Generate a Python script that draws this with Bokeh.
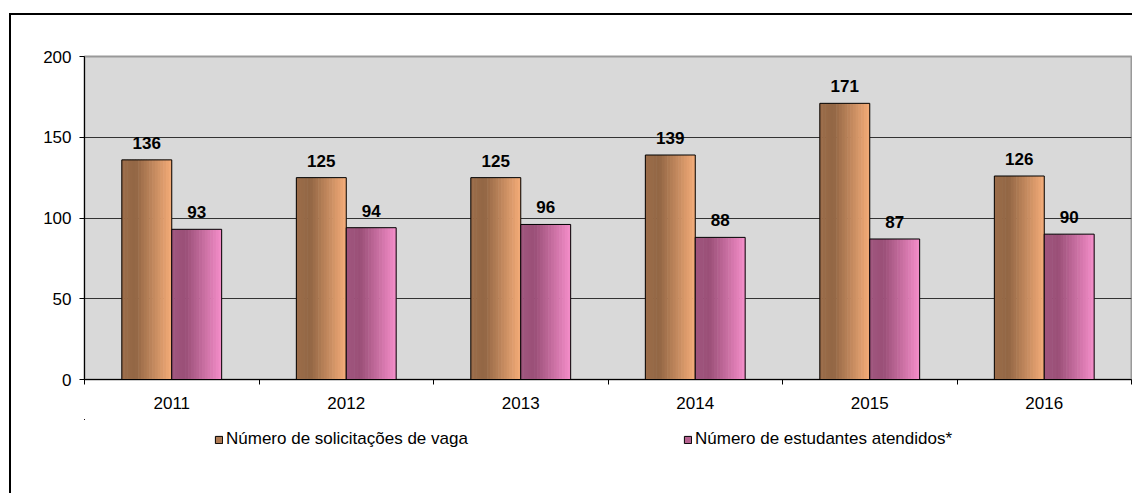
from bokeh.plotting import figure
from bokeh.models import (ColumnDataSource, Range1d, LinearAxis, FixedTicker,
                          Legend, LegendItem)
from bokeh.layouts import column
from bokeh.transform import dodge
from bokeh.core.properties import value
from bokeh.embed import file_html
from bokeh.resources import INLINE

# ---- data ----
years = ["2011", "2012", "2013", "2014", "2015", "2016"]
solicitacoes = [136, 125, 125, 139, 171, 126]
atendidos = [93, 94, 96, 88, 87, 90]
series_names = ["Número de solicitações de vaga", "Número de estudantes atendidos*"]
y_ticks = [0, 50, 100, 150, 200]

FONT = "Liberation Sans"

# category slot centres (index based)
xc = [i + 0.5 for i in range(len(years))]

src = ColumnDataSource(dict(
    year=years, xc=xc, sol=solicitacoes, ate=atendidos,
    sol_lbl=[str(v) for v in solicitacoes],
    ate_lbl=[str(v) for v in atendidos],
))

p = figure(x_range=Range1d(0, len(years)), y_range=(0, 200), width=1121, height=404,
           output_backend="svg", toolbar_location=None, x_axis_location=None,
           min_border_left=73, min_border_top=41, min_border_right=1,
           min_border_bottom=40, background_fill_color="#D9D9D9",
           border_fill_color="white", outline_line_color="#999999",
           outline_line_width=2)

# gradient helpers (style only)
ORANGE = [(0.0, "#9C6D4A"), (0.28, "#926644"), (1.0, "#F4AC78")]
PINK = [(0.0, "#A0567E"), (0.28, "#9A4F77"), (1.0, "#F48DC9")]


def hex2rgb(h):
    h = h.lstrip("#")
    return [int(h[i:i + 2], 16) for i in (0, 2, 4)]


def grad(stops, t):
    for (t0, c0), (t1, c1) in zip(stops[:-1], stops[1:]):
        if t0 <= t <= t1:
            f = (t - t0) / (t1 - t0)
            a, b = hex2rgb(c0), hex2rgb(c1)
            return "#%02x%02x%02x" % tuple(int(round(a[k] + (b[k] - a[k]) * f)) for k in range(3))
    return stops[-1][1]


W = 0.286
N = 18
for key, lbl, off, stops in [("sol", "sol_lbl", -W / 2, ORANGE), ("ate", "ate_lbl", W / 2, PINK)]:
    for i in range(N):
        t = (i + 0.5) / N
        xo = off - W / 2 + t * W
        p.vbar(x=dodge("xc", xo), top=key, width=W / N * 1.2,
               source=src, fill_color=grad(stops, t), line_color=None)
    p.vbar(x=dodge("xc", off), top=key, width=W, source=src,
           fill_color=None, line_color="black", line_width=1)
    p.text(x=dodge("xc", off), y=key, text=lbl, source=src,
           text_align="center", text_baseline="alphabetic", y_offset=-17,
           text_font=value(FONT), text_font_style="bold", text_font_size="17px",
           text_color="black")

# grid
p.ygrid.ticker = FixedTicker(ticks=[50, 100, 150])
p.ygrid.grid_line_color = "#333333"
p.ygrid.grid_line_width = 1

# y axis
ya = p.yaxis[0]
ya.ticker = FixedTicker(ticks=y_ticks)
ya.major_tick_out = 5
ya.major_tick_in = 0
ya.minor_tick_line_color = None
ya.axis_line_color = "black"
ya.major_tick_line_color = "black"
ya.major_label_standoff = 8
ya.major_label_text_font = FONT
ya.major_label_text_font_size = "17px"
ya.major_label_text_color = "black"

# x axis: labels at category centres, ticks at boundaries
xa = LinearAxis(
    ticker=FixedTicker(ticks=xc, minor_ticks=list(range(len(years) + 1))),
    major_label_overrides={c: y for c, y in zip(xc, years)},
    major_tick_line_color=None, major_tick_out=5, major_tick_in=0,
    minor_tick_out=5, minor_tick_in=0, minor_tick_line_color="black",
    axis_line_color="black", major_label_standoff=12,
    major_label_text_font=FONT, major_label_text_font_size="17px",
    major_label_text_color="black")
p.add_layout(xa, "below")
for g in p.xgrid:
    g.grid_line_color = None

# legend strip (separate figure so the legend is not clipped);
# its glyphs lie outside its ranges, only the legend shows
p2 = figure(x_range=Range1d(1000, 1010), y_range=Range1d(-2000, -1000), width=1121, height=74,
            output_backend="svg", toolbar_location=None, x_axis_location=None,
            y_axis_location=None, min_border=0, outline_line_color=None,
            background_fill_color="white", border_fill_color="white")
p2.grid.grid_line_color = None
leg_r = []
for key, stops in [("sol", ORANGE), ("ate", PINK)]:
    leg_r.append(p2.vbar(x="xc", top=key, width=W, source=src,
                         fill_color=grad(stops, 0.5), line_color="black", line_width=1))
legend = Legend(
    items=[LegendItem(label=series_names[0], renderers=[leg_r[0]]),
           LegendItem(label=series_names[1], renderers=[leg_r[1]])],
    location=(130, 44), orientation="horizontal",
    glyph_width=9, glyph_height=9, label_standoff=3, label_width=440, spacing=17,
    padding=0, margin=0, border_line_color=None, background_fill_alpha=0,
    label_text_font=FONT, label_text_font_size="17px", label_text_color="black")
p2.add_layout(legend, "center")

layout = column(p, p2, spacing=0, margin=(13, 0, 0, 9),
                styles={"border-left": "2px solid black", "border-top": "2px solid black"})

open("out.html", "w").write(file_html(layout, INLINE))
